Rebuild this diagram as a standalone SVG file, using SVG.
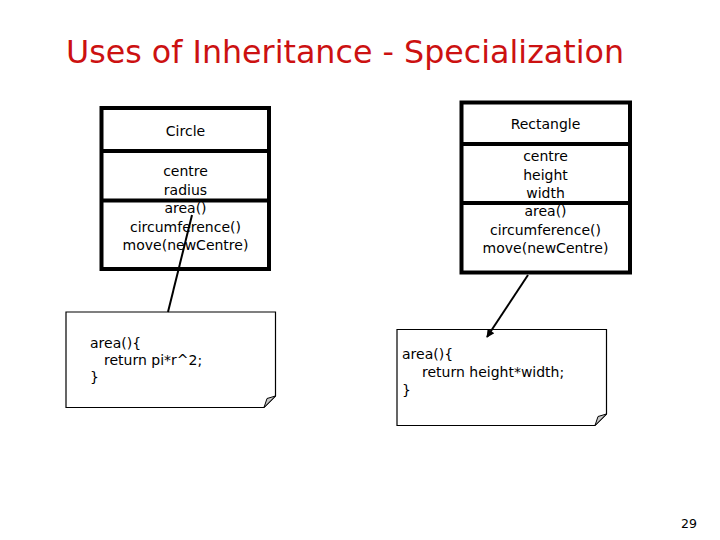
<svg xmlns="http://www.w3.org/2000/svg" width="720" height="540" viewBox="0 0 720 540">
<defs>
<style>
.t{font-family:"DejaVu Sans","Liberation Sans",sans-serif;font-size:14px;fill:#000}
.c{text-anchor:middle}
.box{fill:#fff;stroke:none}
.bl{fill:none;stroke:#000;stroke-width:4}
.note{fill:#fff;stroke:#000;stroke-width:1.2}
.fold{fill:#c8c8c8;stroke:#000;stroke-width:1}
.conn{stroke:#000;stroke-width:2;fill:none}
</style>
<marker id="ah" viewBox="0 0 10 10" refX="9" refY="5" markerWidth="5" markerHeight="4" markerUnits="strokeWidth" orient="auto">
<path d="M0,0 L10,5 L0,10 Z" fill="#000"/>
</marker>
</defs>
<rect width="720" height="540" fill="#fff"/>
<text x="66" y="63" font-family="DejaVu Sans, Liberation Sans, sans-serif" font-size="32" fill="#cc1111" textLength="558" lengthAdjust="spacingAndGlyphs">Uses of Inheritance - Specialization</text>

<g id="circle">
<rect class="box" x="101.5" y="108" width="167.5" height="161"/>
<text class="t c" x="185.5" y="136">Circle</text>
<text class="t c" x="185.5" y="176">centre</text>
<text class="t c" x="185.5" y="194.5">radius</text>
<text class="t c" x="185.5" y="213">area()</text>
<text class="t c" x="185.5" y="231.5">circumference()</text>
<text class="t c" x="185.5" y="250">move(newCentre)</text>
<rect class="bl" x="101.5" y="108" width="167.5" height="161"/>
<line class="bl" x1="101.5" y1="151" x2="269" y2="151"/>
<line class="bl" x1="101.5" y1="200.5" x2="269" y2="200.5"/>
</g>

<g id="rectangle">
<rect class="box" x="461.5" y="102.5" width="168.5" height="170"/>
<text class="t c" x="545.5" y="129">Rectangle</text>
<text class="t c" x="545.5" y="161">centre</text>
<text class="t c" x="545.5" y="179.5">height</text>
<text class="t c" x="545.5" y="198">width</text>
<text class="t c" x="545.5" y="216">area()</text>
<text class="t c" x="545.5" y="234.5">circumference()</text>
<text class="t c" x="545.5" y="253">move(newCentre)</text>
<rect class="bl" x="461.5" y="102.5" width="168.5" height="170"/>
<line class="bl" x1="461.5" y1="144" x2="630" y2="144"/>
<line class="bl" x1="461.5" y1="203" x2="630" y2="203"/>
</g>

<g id="note1">
<path class="note" d="M66,312 H275.5 V396 L264,407.5 H66 Z"/>
<path class="fold" d="M264,407.5 L275.5,396 L267,398.5 Z"/>
<text class="t" x="90" y="348">area(){</text>
<text class="t" x="104" y="364.5">return pi*r^2;</text>
<text class="t" x="90" y="382">}</text>
</g>

<g id="note2">
<path class="note" d="M397,329.5 H606.5 V414 L595,425.5 H397 Z"/>
<path class="fold" d="M595,425.5 L606.5,414 L598,416.5 Z"/>
<text class="t" x="402" y="359">area(){</text>
<text class="t" x="422" y="377">return height*width;</text>
<text class="t" x="402" y="395">}</text>
</g>

<g id="connectors">
<line class="conn" x1="192" y1="215" x2="168" y2="312"/>
<line class="conn" x1="528" y1="275" x2="487" y2="337" marker-end="url(#ah)"/>
</g>

<text x="681" y="527.5" font-family="DejaVu Sans, Liberation Sans, sans-serif" font-size="12.5" fill="#000">29</text>
</svg>
